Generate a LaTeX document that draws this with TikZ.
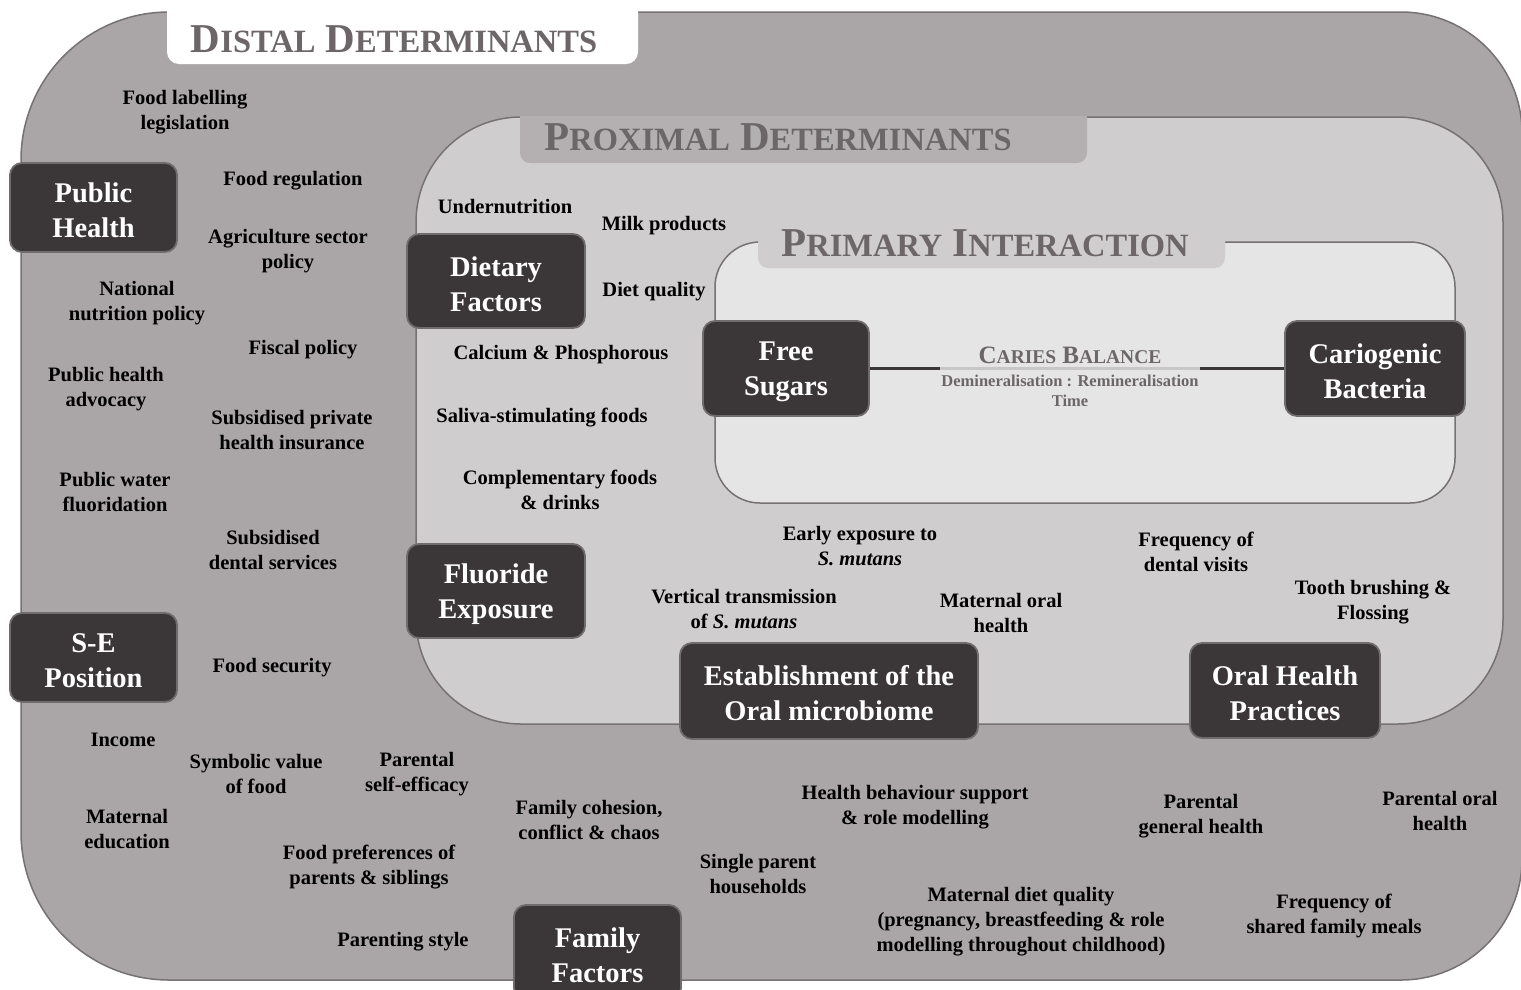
\documentclass[tikz,border=0pt]{standalone}
\usepackage{fontspec}
\setmainfont{Liberation Serif}
\definecolor{distalfill}{RGB}{170,166,167}
\definecolor{proxfill}{RGB}{208,205,206}
\definecolor{primfill}{RGB}{229,229,229}
\definecolor{proxtab}{RGB}{180,176,177}
\definecolor{edgec}{RGB}{118,114,115}
\definecolor{titlec}{RGB}{108,102,104}
\definecolor{boxfill}{RGB}{59,55,56}
\definecolor{boxedge}{RGB}{112,108,109}
\definecolor{lightseg}{RGB}{200,198,199}
\newcommand{\tcap}[2]{{\fontsize{41}{41}\selectfont #1}{\fontsize{32.5}{32.5}\selectfont #2}}
\newcommand{\ccap}[2]{{\fontsize{25}{25}\selectfont #1}{\fontsize{19.5}{19.5}\selectfont #2}}
\newcommand{\tsp}{\hspace{10pt}}
\newcommand{\bx}{\rule{0pt}{26pt}}
\begin{document}
\begin{tikzpicture}[x=1pt,y=-1pt,
  lbl/.style={font=\bfseries\fontsize{20.5}{25}\selectfont, align=center, inner sep=0pt, text=black, yshift=-2.5pt},
  dbox/.style={draw=boxedge, fill=boxfill, line width=1.8pt, rounded corners=12pt, text=white,
               font=\bfseries\fontsize{28.5}{35}\selectfont, align=center, inner sep=0pt},
  region/.style={draw=edgec, line width=1.5pt},
  ttl/.style={font=\bfseries, text=titlec, inner sep=0pt, anchor=base},
  darkline/.style={draw=boxfill, line width=3pt},
  lightline/.style={draw=lightseg, line width=3pt}]
\clip (0,0) rectangle (1521,989);
\fill[white] (0,0) rectangle (1521,989);
% distal region
\draw[region, fill=distalfill] (21,500) [rounded corners=148pt] -- (21,12) [rounded corners=121pt] -- (1522,12) -- (1522,980) [rounded corners=148pt] -- (21,980) -- cycle;
\fill[white, rounded corners=12pt] (167,-20) rectangle (638,64);
\node[ttl] (dtitle) at (394,52) {\tcap{D}{ISTAL}\tsp\tcap{D}{ETERMINANTS}};
% proximal region
\draw[region, fill=proxfill, rounded corners=105pt] (416,117) rectangle (1503,724);
\begin{scope}
  \clip (0,116.5) rectangle (1521,300);
  \fill[proxtab, rounded corners=10pt] (520,80) rectangle (1087,163);
\end{scope}
\node[ttl] (ptitle) at (778,150) {\tcap{P}{ROXIMAL}\tsp\tcap{D}{ETERMINANTS}};
% primary region
\draw[region, fill=primfill, rounded corners=45pt] (715,242) rectangle (1455,503);
\begin{scope}
  \clip (0,238) rectangle (1521,300);
  \fill[proxfill, rounded corners=10pt] (758,200) rectangle (1225,268);
\end{scope}
\node[ttl] (itile) at (985,256) {\tcap{P}{RIMARY}\tsp\tcap{I}{NTERACTION}};
% dark boxes
\node[dbox, minimum width=167pt, minimum height=89pt] (ph) at (93.5,207.5) {\bx Public\\Health};
\node[dbox, minimum width=167pt, minimum height=89pt] (se) at (93.5,657.5) {\bx S-E\\Position};
\node[dbox, minimum width=178pt, minimum height=94pt] (df) at (496,281) {\bx Dietary\\Factors};
\node[dbox, minimum width=178pt, minimum height=94pt] (fe) at (496,591) {\bx Fluoride\\Exposure};
\node[dbox, minimum width=166pt, minimum height=95pt] (fs) at (786,368.5) {\bx Free\\Sugars};
\node[dbox, minimum width=180pt, minimum height=95pt] (cb) at (1375,368.5) {\bx Cariogenic\\Bacteria};
\node[dbox, minimum width=298pt, minimum height=96pt] (em) at (829,691) {\rule{0pt}{24pt}Establishment of the\\Oral microbiome};
\node[dbox, minimum width=190pt, minimum height=95pt] (oh) at (1285,690.5) {\bx Oral Health\\Practices};
\node[dbox, minimum width=167pt, minimum height=95pt] (ff) at (597.5,952.5) {\bx Family\\Factors};
% caries balance
\coordinate (cbl) at (940,368.5);
\coordinate (cbr) at (1200,368.5);
\draw[darkline] (fs.east) -- (cb.west);
\draw[lightline] (cbl) -- (cbr);
\node[ttl] (cbt) at (1070,363) {\ccap{C}{ARIES}\hspace{6pt}\ccap{B}{ALANCE}};
\node[ttl, font=\bfseries\fontsize{16.5}{20}\selectfont] (dr) at (1070,386) {Demineralisation : Remineralisation};
\node[ttl, font=\bfseries\fontsize{16.5}{20}\selectfont] (tm) at (1070,406) {Time};
% distal texts
\node[lbl] (t1) at (185,110) {Food labelling\\legislation};
\node[lbl] (t2) at (293,178) {Food regulation};
\node[lbl] (t3) at (288,249) {Agriculture sector\\policy};
\node[lbl] (t4) at (137,301) {National\\nutrition policy};
\node[lbl] (t5) at (303,347) {Fiscal policy};
\node[lbl] (t6) at (106,387) {Public health\\advocacy};
\node[lbl] (t7) at (292,428) {Subsidised private\\health insurance};
\node[lbl] (t8) at (115,490) {Public water\\fluoridation};
\node[lbl] (t9) at (273,547) {Subsidised\\dental services};
\node[lbl] (t10) at (272,665) {Food security};
\node[lbl] (t11) at (123,737) {Income};
\node[lbl] (t12) at (256,771) {Symbolic value\\of food};
\node[lbl] (t13) at (417,772) {Parental\\self-efficacy};
\node[lbl] (t14) at (127,826) {Maternal\\education};
\node[lbl] (t15) at (589,817) {Family cohesion,\\conflict \& chaos};
\node[lbl] (t16) at (369,865) {Food preferences of\\parents \& siblings};
\node[lbl] (t17) at (403,939) {Parenting style};
\node[lbl] (t18) at (915,805) {Health behaviour support\\\& role modelling};
\node[lbl] (t19) at (758,871) {Single parent\\households};
\node[lbl] (t20) at (1201,814) {Parental\\general health};
\node[lbl] (t21) at (1440,808) {Parental oral\\health};
\node[lbl] (t22) at (1021,919) {Maternal diet quality\\(pregnancy, breastfeeding \& role\\modelling throughout childhood)};
\node[lbl] (t23) at (1334,913) {Frequency of\\shared family meals};
% proximal texts
\node[lbl] (t24) at (505,204) {Undernutrition};
\node[lbl] (t25) at (664,223) {Milk products};
\node[lbl] (t26) at (654,289) {Diet quality};
\node[lbl] (t27) at (561,352) {Calcium \& Phosphorous};
\node[lbl] (t28) at (542,415) {Saliva-stimulating foods};
\node[lbl] (t29) at (560,487) {Complementary foods\\\& drinks};
\node[lbl] (t30) at (860,544) {Early exposure to\\\textit{S. mutans}};
\node[lbl] (t31) at (744,607) {Vertical transmission\\of \textit{S. mutans}};
\node[lbl] (t32) at (1001,610) {Maternal oral\\health};
\node[lbl] (t33) at (1196,549) {Frequency of\\dental visits};
\node[lbl] (t34) at (1373,600) {Tooth brushing \&\\Flossing};
\end{tikzpicture}
\end{document}
